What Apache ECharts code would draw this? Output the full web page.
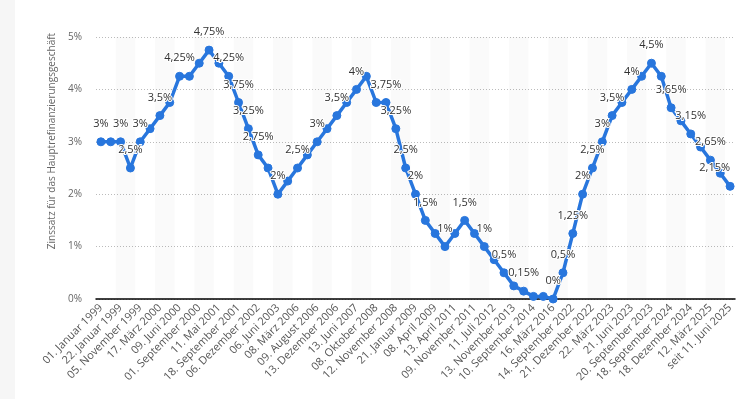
<!DOCTYPE html>
<html>
<head>
<meta charset="utf-8">
<script src="https://cdn.jsdelivr.net/npm/echarts@6/dist/echarts.min.js"></script>
<style>html,body{margin:0;padding:0;background:#fff;}#c{width:746px;height:399px;}</style>
</head>
<body>
<div id="c"></div>
<script>
const categories = [
  "01. Januar 1999","04. Januar 1999","22. Januar 1999","09. April 1999","05. November 1999",
  "04. Februar 2000","17. März 2000","28. April 2000","09. Juni 2000","28. Juni 2000",
  "01. September 2000","06. Oktober 2000","11. Mai 2001","31. August 2001","18. September 2001",
  "09. November 2001","06. Dezember 2002","07. März 2003","06. Juni 2003","06. Dezember 2005",
  "08. März 2006","15. Juni 2006","09. August 2006","11. Oktober 2006","13. Dezember 2006",
  "14. März 2007","13. Juni 2007","09. Juli 2008","08. Oktober 2008","15. Oktober 2008",
  "12. November 2008","10. Dezember 2008","21. Januar 2009","11. März 2009","08. April 2009",
  "13. Mai 2009","13. April 2011","13. Juli 2011","09. November 2011","14. Dezember 2011",
  "11. Juli 2012","08. Mai 2013","13. November 2013","11. Juni 2014","10. September 2014",
  "09. Dezember 2015","16. März 2016","27. Juli 2022","14. September 2022","02. November 2022",
  "21. Dezember 2022","08. Februar 2023","22. März 2023","10. Mai 2023","21. Juni 2023",
  "02. August 2023","20. September 2023","12. Juni 2024","18. September 2024","23. Oktober 2024",
  "18. Dezember 2024","05. Februar 2025","12. März 2025","23. April 2025","seit 11. Juni 2025"
];
const rates = [
  3, 3, 3, 2.5, 3,
  3.25, 3.5, 3.75, 4.25, 4.25,
  4.5, 4.75, 4.5, 4.25, 3.75,
  3.25, 2.75, 2.5, 2, 2.25,
  2.5, 2.75, 3, 3.25, 3.5,
  3.75, 4, 4.25, 3.75, 3.75,
  3.25, 2.5, 2, 1.5, 1.25,
  1, 1.25, 1.5, 1.25, 1,
  0.75, 0.5, 0.25, 0.15, 0.05,
  0.05, 0, 0.5, 1.25, 2,
  2.5, 3, 3.5, 3.75, 4,
  4.25, 4.5, 4.25, 3.65, 3.4,
  3.15, 2.9, 2.65, 2.4, 2.15
];
const labeledPoints = [0,2,3,4,6,8,11,13,14,15,16,18,20,22,24,26,29,30,31,32,33,35,37,39,41,43,46,47,48,49,50,51,52,54,56,58,60,62,64];
const yTicks = [0, 1, 2, 3, 4, 5];
const yAxisTitle = "Zinssatz für das Hauptrefinanzierungsgeschäft";

const fmt = v => String(v).replace('.', ',') + '%';
const font = "'Open Sans', 'Noto Sans', sans-serif";

const seriesData = rates.map((v, i) => {
  const show = labeledPoints.indexOf(i) >= 0;
  const item = { value: v, label: { show: show } };
  if (i === rates.length - 1) item.label.align = 'right';
  return item;
});

const chart = echarts.init(document.getElementById('c'), null, { renderer: 'canvas' });
chart.setOption({
  animation: false,
  backgroundColor: '#ffffff',
  textStyle: { fontFamily: font },
  graphic: [
    { type: 'rect', left: 0, top: 0, shape: { width: 15, height: 399 }, style: { fill: '#f6f6f6' }, z: -10 },
    { type: 'text', x: 52, y: 141, rotation: Math.PI / 2,
      style: { text: yAxisTitle, fill: '#666', font: "10px 'Open Sans', sans-serif", align: 'center', verticalAlign: 'middle' } }
  ],
  grid: { left: 96, right: 11, top: 37, bottom: 100, containLabel: false },
  xAxis: {
    type: 'category',
    data: categories,
    boundaryGap: true,
    axisLine: { show: true, lineStyle: { color: '#000', width: 1.5 } },
    axisTick: { show: false, interval: 1 },
    axisLabel: { interval: 1, rotate: 45, fontSize: 11, color: '#555', margin: 7, fontFamily: font },
    splitArea: { show: true, interval: 1, areaStyle: { color: ['rgba(0,0,0,0)', 'rgba(0,0,0,0.018)'] } },
    splitLine: { show: false }
  },
  yAxis: {
    type: 'value',
    min: yTicks[0], max: yTicks[yTicks.length - 1], interval: 1,
    axisLine: { show: false }, axisTick: { show: false },
    axisLabel: { formatter: v => v + '%', fontSize: 10, color: '#666', margin: 14, fontFamily: font },
    splitLine: { show: true, lineStyle: { color: '#bbb', type: [1, 2], width: 1 } }
  },
  series: [{
    type: 'line',
    data: seriesData,
    symbol: 'circle',
    symbolSize: 8,
    showAllSymbol: true,
    lineStyle: { color: '#2876dd', width: 3.5 },
    itemStyle: { color: '#2876dd', borderColor: '#2876dd' },
    label: {
      position: 'top', distance: 8,
      formatter: p => fmt(p.value),
      fontSize: 11, color: '#333', fontFamily: font,
      textBorderColor: '#fff', textBorderWidth: 2
    },
    labelLayout: { hideOverlap: false },
    z: 5
  }]
});
</script>
</body>
</html>
